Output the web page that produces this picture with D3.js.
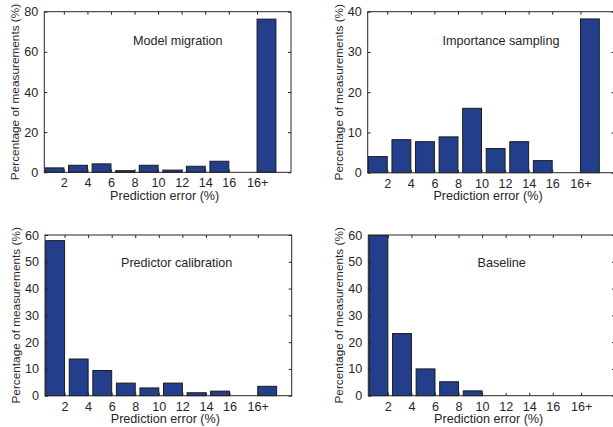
<!DOCTYPE html>
<html>
<head>
<meta charset="utf-8">
<script src="https://cdn.jsdelivr.net/npm/d3@7"></script>
<style>
  body { margin: 0; background: #fff; }
  text { font-family: "Liberation Sans", Arial, sans-serif; fill: #262626; }
</style>
</head>
<body>
<svg id="chart" width="613" height="427"></svg>
<script>
// bins (bar positions) and tick labels
const bins = [1, 2, 3, 4, 5, 6, 7, 8, 9, 10];
const tickPos = [1.4, 2.4, 3.4, 4.4, 5.4, 6.4, 7.4, 8.4, 9.6];
const tickLabels = ["2", "4", "6", "8", "10", "12", "14", "16", "16+"];

// percentages per bin
const modelMigration = [2.2, 3.5, 4.2, 0.8, 3.5, 1.1, 3.0, 5.5, 0, 76.3];
const importanceSampling = [4.0, 8.2, 7.7, 8.9, 16.0, 6.0, 7.7, 3.0, 0, 38.2];
const predictorCalibration = [57.9, 13.7, 9.4, 4.7, 2.9, 4.7, 1.1, 1.7, 0, 3.5];
const baseline = [59.8, 23.2, 10.0, 5.2, 1.8, 0, 0, 0, 0, 0];

const titles = ["Model migration", "Importance sampling", "Predictor calibration", "Baseline"];
const yMax = [80, 40, 60, 60];
const yStep = [20, 10, 10, 10];

const panels = [
  { values: modelMigration,       left: 44.3,  top: 11.7, bottom: 172.3, tx: 133,   ty: 44.5 },
  { values: importanceSampling,   left: 367.7, top: 11.7, bottom: 172.7, tx: 442.5, ty: 44.5 },
  { values: predictorCalibration, left: 45,    top: 235,  bottom: 395.7, tx: 121,   ty: 266.5 },
  { values: baseline,             left: 368.3, top: 235,  bottom: 395.7, tx: 477.5, ty: 266.5 }
];

const svg = d3.select("#chart");
const W = 246.7;
const tickLen = 3;

panels.forEach((p, k) => {
  const x = d3.scaleLinear().domain([0.57, 11.04]).range([p.left, p.left + W]);
  const y = d3.scaleLinear().domain([0, yMax[k]]).range([p.bottom, p.top]);
  const g = svg.append("g");
  const bw = x(0.8) - x(0);

  // bars
  g.selectAll("rect")
    .data(bins.map((b, i) => ({ b, v: p.values[i] })).filter(d => d.v > 0))
    .enter()
    .append("rect")
    .attr("x", d => x(d.b) - bw / 2)
    .attr("width", bw)
    .attr("y", d => y(d.v))
    .attr("height", d => y(0) - y(d.v))
    .attr("fill", "#233f8c")
    .attr("stroke", "#1b1b1b")
    .attr("stroke-width", 1);

  // box
  g.append("rect")
    .attr("x", p.left).attr("y", p.top)
    .attr("width", W).attr("height", p.bottom - p.top)
    .attr("fill", "none").attr("stroke", "#262626").attr("stroke-width", 1);

  // y ticks (inward, both sides)
  const yt = d3.range(0, yMax[k] + 0.001, yStep[k]);
  const ax = d3.axisLeft(y).tickValues(yt).tickSize(-tickLen).tickPadding(6);
  const yg = g.append("g").attr("transform", `translate(${p.left},0)`).call(ax);
  yg.select(".domain").remove();
  yg.selectAll("text").style("font-size", "12.6px").attr("fill", "#262626");
  yg.selectAll("line").attr("stroke", "#262626");
  const ayr = d3.axisRight(y).tickValues(yt).tickSize(-tickLen).tickFormat("");
  const yr = g.append("g").attr("transform", `translate(${p.left + W},0)`).call(ayr);
  yr.select(".domain").remove();
  yr.selectAll("line").attr("stroke", "#262626");

  // x ticks (inward, bottom and top)
  const axb = d3.axisBottom(x).tickValues(tickPos).tickSize(-tickLen).tickPadding(6)
    .tickFormat((d, i) => tickLabels[i]);
  const xb = g.append("g").attr("transform", `translate(0,${p.bottom})`).call(axb);
  xb.select(".domain").remove();
  xb.selectAll("text").style("font-size", "12.6px").attr("fill", "#262626");
  xb.selectAll("line").attr("stroke", "#262626");
  const axt = d3.axisTop(x).tickValues(tickPos).tickSize(-tickLen).tickFormat("");
  const xt = g.append("g").attr("transform", `translate(0,${p.top})`).call(axt);
  xt.select(".domain").remove();
  xt.selectAll("line").attr("stroke", "#262626");

  // axis labels
  g.append("text")
    .attr("x", p.left + W / 2 - 3).attr("y", p.bottom + 27.5)
    .attr("text-anchor", "middle").style("font-size", "12.6px")
    .text("Prediction error (%)");
  g.append("text")
    .attr("transform", `translate(${p.left - 25},${(p.top + p.bottom) / 2}) rotate(-90)`)
    .attr("text-anchor", "middle").style("font-size", "11.8px")
    .text("Percentage of measurements (%)");

  // panel title
  g.append("text")
    .attr("x", p.tx).attr("y", p.ty)
    .style("font-size", "12.6px")
    .text(titles[k]);
});
</script>
</body>
</html>
